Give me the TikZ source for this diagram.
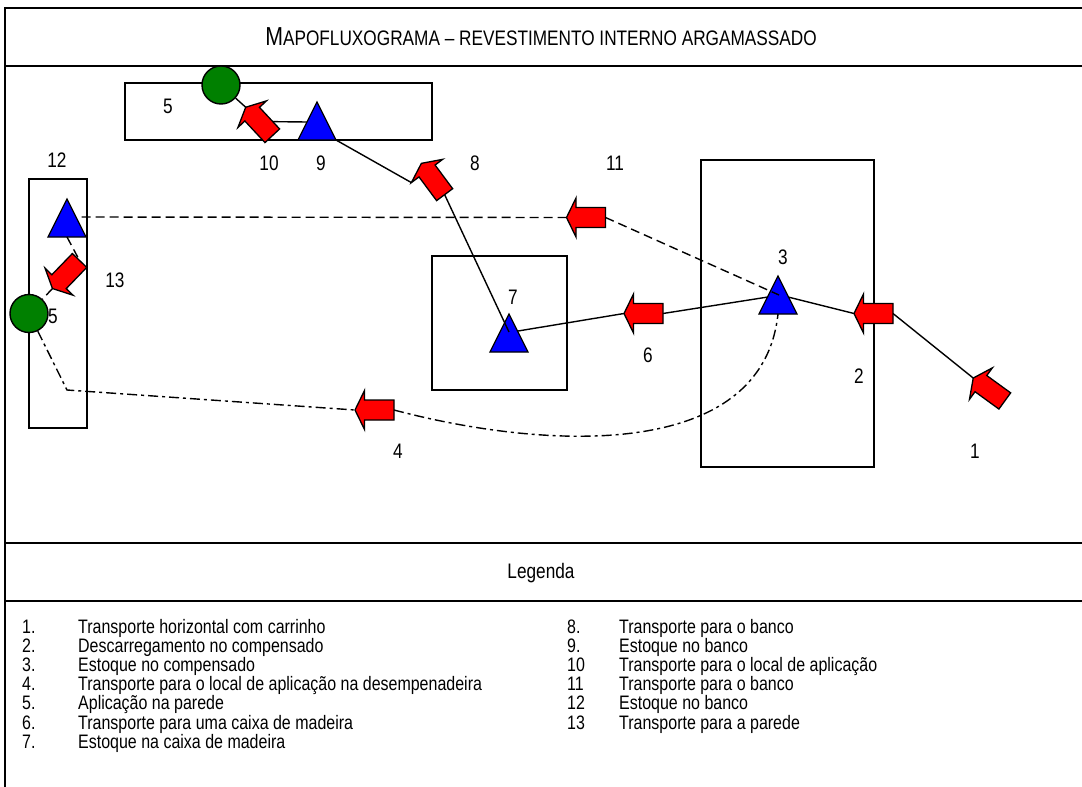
\documentclass[tikz,border=0pt]{standalone}
\usepackage{fontspec}
\setmainfont{Liberation Sans}[FakeStretch=0.82]
\usetikzlibrary{calc}
\definecolor{arrred}{RGB}{255,0,0}
\definecolor{triblue}{RGB}{0,0,255}
\definecolor{circgreen}{RGB}{0,128,0}
\newcommand\blockarrow[3]{%
  \begin{scope}[shift={(#2)},rotate=#3]
    \draw[blockarr] (-19.5,0) -- (-10,-19.5) -- (-10,-10) -- (19.5,-10) -- (19.5,10) -- (-10,10) -- (-10,19.5) -- cycle;
    \coordinate (#1-tip) at (-19.5,0);
    \coordinate (#1-tail) at (19.5,0);
    \coordinate (#1-b1) at (-10,19.5);
    \coordinate (#1-c) at (0,0);
  \end{scope}}
\begin{document}
\begin{tikzpicture}[x=1pt,y=-1pt,
  frame/.style={line width=2.2pt},
  box/.style={draw,line width=1.8pt},
  conn/.style={line width=1.4pt},
  dashconn/.style={line width=1.4pt,dash pattern=on 9pt off 5pt},
  dashdotconn/.style={line width=1.4pt,dash pattern=on 10pt off 4pt on 3pt off 4pt},
  blockarr/.style={fill=arrred,draw=black,line width=1.3pt,line join=miter},
  tristyle/.style={fill=triblue,draw=black,line width=1.3pt,line join=miter},
  circstyle/.style={circle,fill=circgreen,draw=black,line width=1.4pt,minimum size=38pt,inner sep=0pt},
  lbl/.style={font=\fontsize{21}{21}\selectfont,inner sep=0pt},
  legnum/.style={font=\fontsize{19.5}{19.5}\selectfont,inner sep=0pt,anchor=base west},
  legtxt/.style={font=\fontsize{19.5}{19.5}\selectfont,inner sep=0pt,anchor=base west}]
\useasboundingbox (0,0) rectangle (1082,787);
\fill[white] (0,0) rectangle (1082,787);
% frame
\draw[frame] (1083,8) -- (5,8) -- (5,788);
\draw[frame] (5,66) -- (1083,66);
\draw[frame] (5,543) -- (1083,543);
\draw[frame] (5,601) -- (1083,601);
\node[inner sep=0pt] (title) at (541,37) {{\fontsize{26}{26}\selectfont M}{\fontsize{21}{21}\selectfont APOFLUXOGRAMA -- REVESTIMENTO INTERNO ARGAMASSADO}};
\node[lbl,anchor=base] (legenda) at (541,578) {Legenda};
% rectangles
\draw[box] (125,83) rectangle (432,140);
\draw[box] (29,179) rectangle (87,428);
\draw[box] (432,256) rectangle (567,390);
\draw[box] (701,160) rectangle (874,467);
% triangles (apex coordinates)
\coordinate (t9) at (317,102);
\coordinate (t12) at (67,199);
\coordinate (t3) at (778,276);
\coordinate (t7) at (509,314);
\foreach \t in {t9,t12,t3,t7}
  \draw[tristyle] (\t) -- ++(19,38) -- ++(-38,0) -- cycle;
% circles
\node[circstyle] (c5a) at (221,85) {};
\node[circstyle] (c5b) at (29,313.5) {};
% arrow positions (invisible pass defines the named coordinates)
\begin{scope}[opacity=0]
\blockarrow{a1}{989,389.5}{-36}
\blockarrow{a2}{873.5,313.5}{0}
\blockarrow{a6}{643.5,313.5}{0}
\blockarrow{a11}{586,217.5}{0}
\blockarrow{a4}{374.5,410}{0}
\blockarrow{a8}{433,179}{-53.4}
\blockarrow{a10}{259,121.5}{-47}
\blockarrow{a13}{66,274.5}{46}
\end{scope}
% solid connectors
\draw[conn] (a1-tip) -- (a2-tail);
\draw[conn] (a2-tip) -- ($(t3)+(10,21)$);
\draw[conn] ($(t3)+(-10,21)$) -- (a6-tail);
\draw[conn] (a6-tip) -- ($(t7)+(9,17)$);
\draw[conn] (a8-tail) -- ($(t7)+(0,18)$);
\draw[conn] ($(t9)+(19,38)$) -- (a8-b1);
\draw[conn] ($(t9)+(-10,20)$) -- (a10-c);
\draw[conn] (c5a) -- (a10-tip);
% dashed connectors
\draw[dashconn] (a11-tail) -- ($(t3)+(1,19)$);
\draw[dashconn] (a11-tip) -- ($(t12)+(10,18)$);
\draw[dashconn] ($(t12)+(0,38)$) -- (a13-tail);
\draw[dashconn] (a13-tip) -- (c5b);
% dash-dot connector
\coordinate (k4) at (67,390);
\draw[dashdotconn] (c5b) -- (k4) -- (a4-tip);
\draw[dashdotconn] (a4-tail) .. controls (545,450) and (762,462) .. ($(t3)+(0,38)$);
% visible arrows
\blockarrow{a1}{989,389.5}{-36}
\blockarrow{a2}{873.5,313.5}{0}
\blockarrow{a6}{643.5,313.5}{0}
\blockarrow{a11}{586,217.5}{0}
\blockarrow{a4}{374.5,410}{0}
\blockarrow{a8}{433,179}{-53.4}
\blockarrow{a10}{259,121.5}{-47}
\blockarrow{a13}{66,274.5}{46}
% labels
\node[lbl] (l5a) at (168,106) {5};
\node[lbl] (l10) at (269,163) {10};
\node[lbl] (l9) at (321,163) {9};
\node[lbl] (l8) at (475,163) {8};
\node[lbl] (l11) at (615,163) {11};
\node[lbl] (l12) at (57,160) {12};
\node[lbl] (l13) at (115,280) {13};
\node[lbl] (l5b) at (53,316) {5};
\node[lbl] (l7) at (513,297) {7};
\node[lbl] (l3) at (783,257) {3};
\node[lbl] (l6) at (648,355) {6};
\node[lbl] (l2) at (859,376) {2};
\node[lbl] (l1) at (975,451) {1};
\node[lbl] (l4) at (398,451) {4};
% legend
\foreach \n/\txt [count=\i from 0] in {1./Transporte horizontal com carrinho,
  2./Descarregamento no compensado,
  3./Estoque no compensado,
  4./Transporte para o local de aplicação na desempenadeira,
  5./Aplicação na parede,
  6./Transporte para uma caixa de madeira,
  7./Estoque na caixa de madeira}{
  \node[legnum] (ln\i) at (22,633+19.2*\i) {\n};
  \node[legtxt] (lt\i) at (78,633+19.2*\i) {\txt};
}
\foreach \n/\txt [count=\i from 0] in {8./Transporte para o banco,
  9./Estoque no banco,
  10/Transporte para o local de aplicação,
  11/Transporte para o banco,
  12/Estoque no banco,
  13/Transporte para a parede}{
  \node[legnum] (rn\i) at (567,633+19.2*\i) {\n};
  \node[legtxt] (rt\i) at (619,633+19.2*\i) {\txt};
}
\end{tikzpicture}
\end{document}
